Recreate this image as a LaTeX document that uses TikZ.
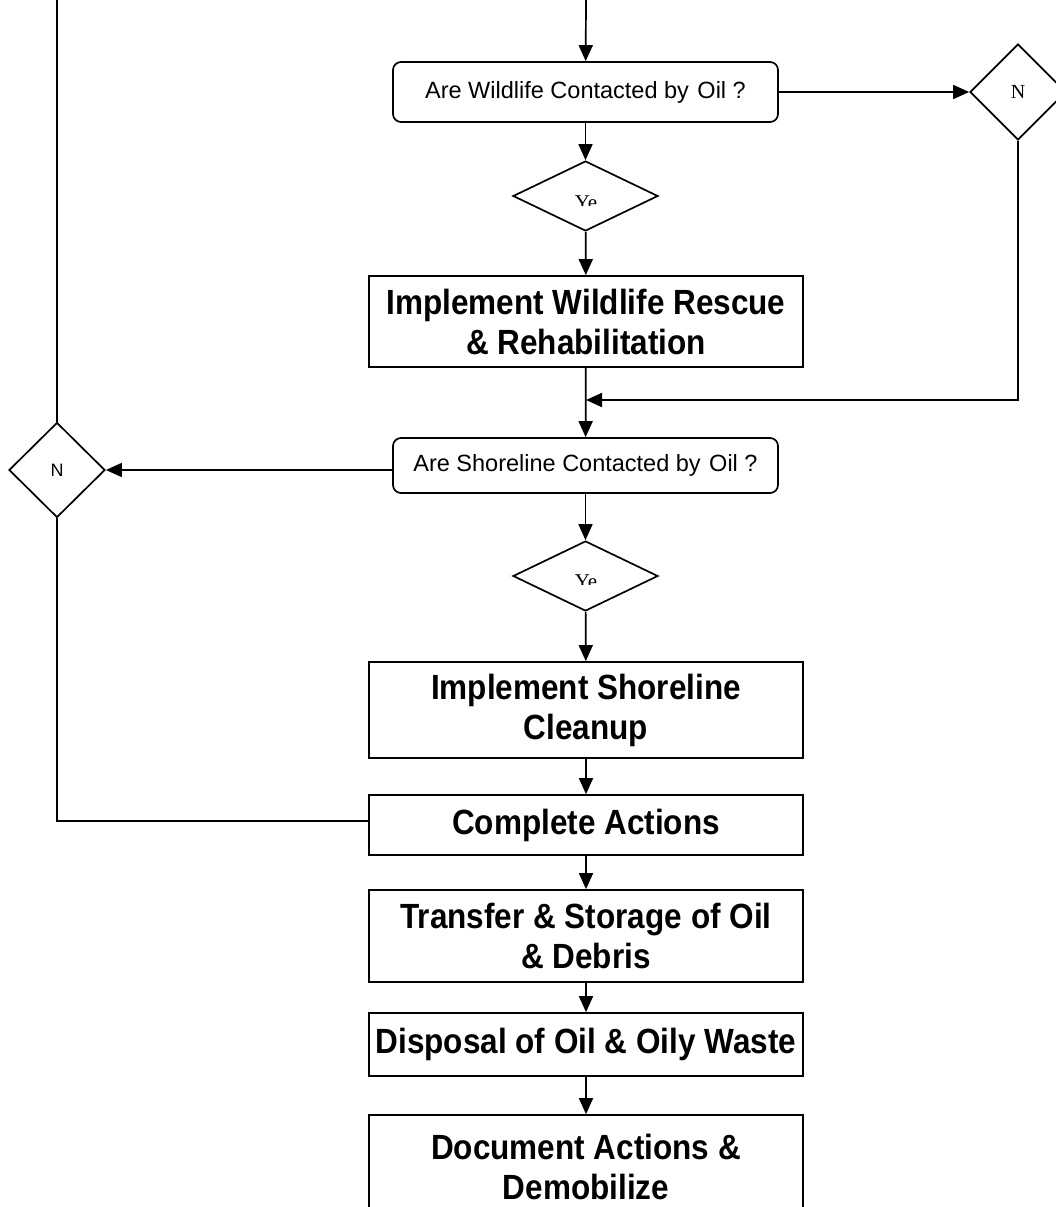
\documentclass[tikz,border=0pt]{standalone}
\usepackage{fontspec}
\setmainfont{Liberation Sans}
\newfontfamily\bx{Liberation Sans Bold}[FakeStretch=0.9]
\newfontfamily\sr{Liberation Serif}
\usetikzlibrary{shapes.geometric,arrows.meta}
\begin{document}
\begin{tikzpicture}[x=1pt,y=-1pt,line width=1.7pt,
  >={Triangle[length=16pt,width=14pt]},
  box/.style={draw,rectangle,minimum width=434pt,inner sep=0pt,align=center,
    font=\bx\fontsize{35}{40}\selectfont},
  qbox/.style={draw,rectangle,rounded corners=8pt,minimum width=385pt,inner sep=0pt,
    font=\fontsize{23.5}{28}\selectfont},
  dia/.style={draw,diamond,inner sep=0pt},
  yetext/.style={font=\sr\fontsize{21}{24}\selectfont,anchor=base,inner sep=0pt}]
\useasboundingbox (0,0) rectangle (1056,1207);
\clip (0,0) rectangle (1056,1207);

\node[qbox,minimum height=60pt] (q1) at (585.5,92) {Are Wildlife Contacted by\kern2pt{} Oil ?};
\node[dia,minimum width=96pt,minimum height=96pt,font=\sr\fontsize{20}{22}\selectfont] (nr) at (1018,92) {N};
\node[dia,minimum width=145pt,minimum height=70pt] (y1) at (585.5,196) {};
\begin{scope}
  \clip (550,191) rectangle (620,205);
  \node[yetext] (y1t) at (586,209) {Ye};
\end{scope}
\node[box,minimum height=91pt] (wild) at (586,321.5) {Implement Wildlife Rescue\\ \& Rehabilitation};
\coordinate (j) at (586,400);
\node[qbox,minimum height=55pt] (q2) at (585.5,465.5) {Are Shoreline Contacted by\kern2pt{} Oil ?};
\node[dia,minimum width=96pt,minimum height=95pt,font=\fontsize{18}{20}\selectfont] (nl) at (57,470) {N};
\node[dia,minimum width=145pt,minimum height=70pt] (y2) at (585.5,576) {};
\begin{scope}
  \clip (550,571) rectangle (620,584);
  \node[yetext] (y2t) at (586,588) {Ye};
\end{scope}
\node[box,minimum height=96pt] (shore) at (586,710) {Implement Shoreline\\ Cleanup};
\node[box,minimum height=60pt] (comp) at (586,825) {Complete Actions};
\node[box,minimum height=92pt] (trans) at (586,936) {Transfer \& Storage of Oil\\ \& Debris};
\node[box,minimum height=63pt] (disp) at (586,1044.5) {Disposal of Oil \& Oily Waste};
\node[box,minimum height=104pt,text depth=0pt] (doc) at (586,1167) {Document Actions \&\\ Demobilize};

\coordinate (top) at (586,0);
\coordinate (ltop) at (57,0);
\draw[->] (top) -- (q1);
\draw[->] (q1.east) -- (nr.west);
\draw[->] (q1) -- (y1);
\draw[->] (y1) -- (wild);
\draw[->] (nr.south) |- (j);
\draw[->] (wild) -- (q2);
\draw[->] (q2.west |- nl.east) -- (nl.east);
\draw (ltop) -- (nl.north);
\draw (nl.south) |- ([yshift=4pt]comp.west);
\draw[->] (q2) -- (y2);
\draw[->] (y2) -- (shore);
\draw[->] (shore) -- (comp);
\draw[->] (comp) -- (trans);
\draw[->] (trans) -- (disp);
\draw[->] (disp) -- (doc);
\end{tikzpicture}
\end{document}
